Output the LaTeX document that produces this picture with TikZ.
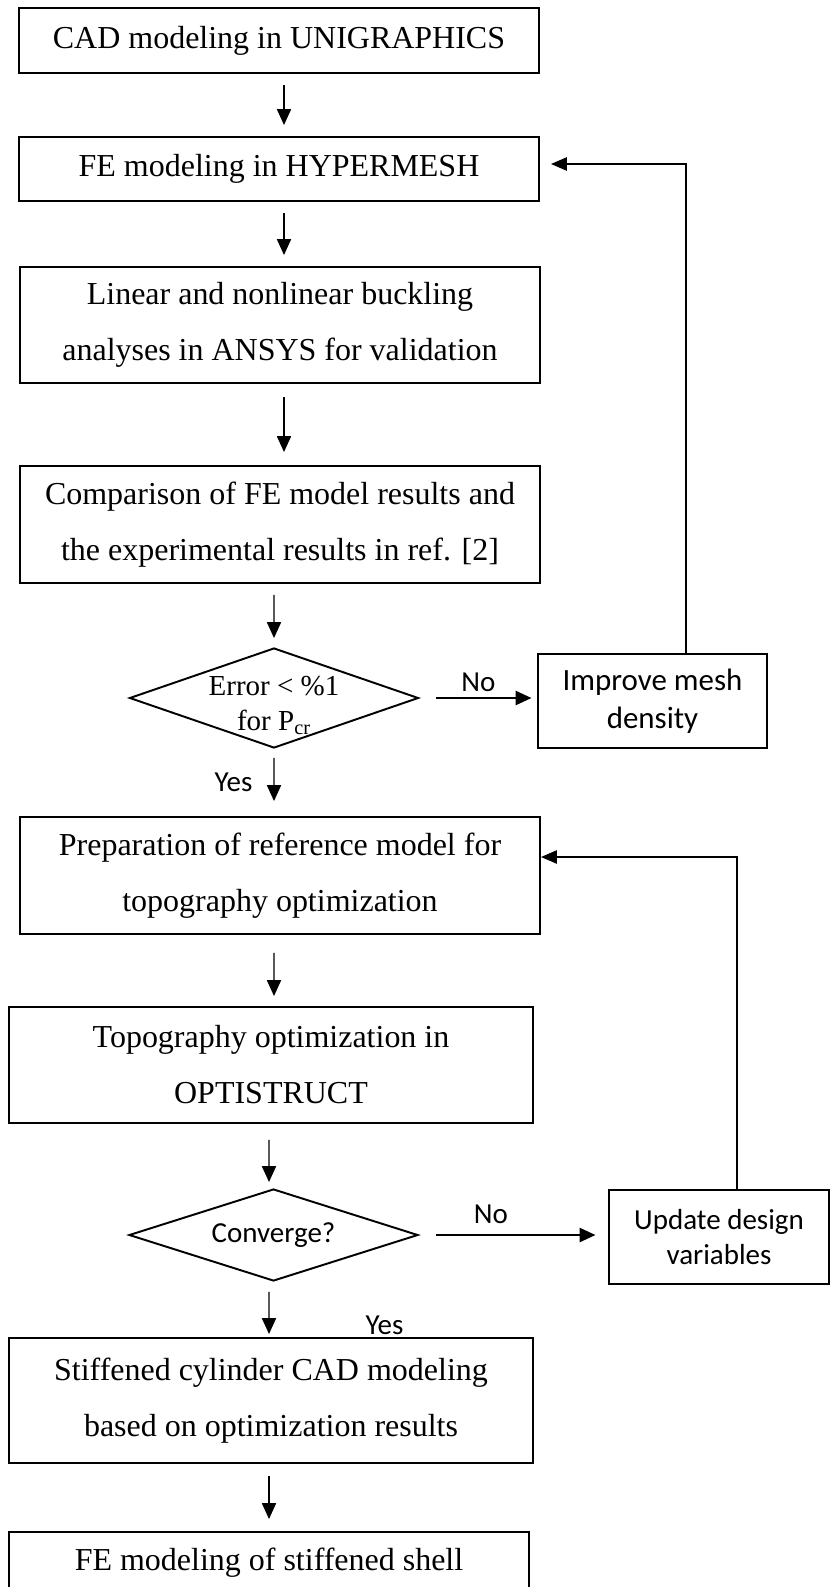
\documentclass[tikz,border=0pt]{standalone}
\usepackage{fontspec}
\setmainfont{Liberation Serif}
\newfontfamily\calibri{Carlito}
\usetikzlibrary{arrows.meta, positioning, shapes.geometric}

\begin{document}
\begin{tikzpicture}[
    x=0.2mm, y=-0.2mm,
    every node/.style={font=\fontsize{18.2}{31.9}\selectfont},
    box/.style={draw, line width=1.1pt, align=center, inner sep=0pt, minimum width=104mm},
    sidebox/.style={draw, line width=0.6pt, align=center, inner sep=0pt, font=\calibri\fontsize{17.6}{21.6}\selectfont},
    decision/.style={diamond, draw, line width=1.1pt, inner sep=0pt, shape aspect=3.1, minimum width=57.8mm},
    flow/.style={-{Triangle[length=9pt, width=8pt]}, line width=0.75pt},
    nolink/.style={-{Triangle[length=9pt, width=8pt]}, line width=1.3pt},
    back/.style={-{Triangle[length=9pt, width=7.5pt]}, line width=0.9pt},
    tag/.style={font=\calibri\fontsize{16.5}{19.9}\selectfont, inner sep=0pt}
]
\useasboundingbox (0,0) rectangle (830,1587);

% Validation chain
\node[box, minimum height=13mm] (cad) at (279,40.5) {CAD modeling in UNIGRAPHICS};
\node[box, minimum height=12.8mm] (fe) at (279,169) {FE modeling in HYPERMESH};
\node[box, minimum height=23.2mm] (buckle) at (280,325) {Linear and nonlinear buckling\\analyses in ANSYS for validation};
\node[box, minimum height=23.4mm] (compare) at (280,524.5) {Comparison of FE model results and\\the experimental results in ref. [2]};

% Error check
\node[decision, minimum height=20mm] (errchk) at (274,698) {};
\node[font=\fontsize{16.5}{19.9}\selectfont, align=center, inner sep=0pt] (errtxt) at ([yshift=-1.5mm]errchk.center) {Error \textless{} \%1\\for P\textsubscript{cr}};
\node[sidebox, minimum width=45.8mm, minimum height=18.8mm] (mesh) at (652.5,701) {Improve mesh\\density};

% Optimization chain
\node[box, minimum height=23.4mm] (prep) at (280,875.5) {Preparation of reference model for\\topography optimization};
\node[box, minimum width=104.7mm, minimum height=23.2mm] (topo) at (271,1065) {Topography optimization in\\OPTISTRUCT};
\node[decision, minimum height=18.4mm, font=\calibri\fontsize{16.5}{19.9}\selectfont] (conv) at (273.5,1235) {Converge?};
\node[sidebox, minimum width=44mm, minimum height=18.8mm, font=\calibri\fontsize{16.5}{19.9}\selectfont] (update) at (719,1237) {Update design\\variables};
\node[box, minimum width=104.7mm, minimum height=25mm] (stiff) at (271,1400.5) {Stiffened cylinder CAD modeling\\based on optimization results};
\node[box, minimum width=103.9mm, minimum height=12.4mm] (shell) at (269,1563) {FE modeling of stiffened shell};

% Main flow
\draw[flow, shorten <=2.2mm, shorten >=2.2mm] ([xshift=1mm]cad.south) -- ([xshift=1mm]fe.north);
\draw[flow, shorten <=2.2mm, shorten >=2.2mm] ([xshift=1mm]fe.south) -- ([xshift=0.8mm]buckle.north);
\draw[flow, shorten <=2.6mm, shorten >=2.6mm] ([xshift=0.8mm]buckle.south) -- ([xshift=0.8mm]compare.north);
\draw[flow, shorten <=2.2mm, shorten >=1.8mm] ([xshift=-1.2mm]compare.south) -- (errchk.north);
\draw[flow, shorten <=1.8mm, shorten >=3mm] (errchk.south) -- node[tag, left=4.2mm] {Yes} ([xshift=-1.2mm]prep.north);
\draw[flow, shorten <=3.6mm, shorten >=2mm] ([xshift=-1.2mm]prep.south) -- ([xshift=0.6mm]topo.north);
\draw[flow, shorten <=3.2mm, shorten >=1.2mm] ([xshift=-0.4mm]topo.south) -- ([xshift=-0.9mm]conv.north);
\draw[flow, shorten <=2mm, shorten >=0.6mm] ([xshift=-0.9mm]conv.south) -- node[tag, pos=0.79, right=19.2mm] {Yes} ([xshift=-0.4mm]stiff.north);
\draw[flow, shorten <=2.4mm, shorten >=2.4mm] ([xshift=-0.4mm]stiff.south) -- (shell.north);

% No branches
\draw[nolink, shorten <=3.4mm, shorten >=1.2mm] (errchk.east) -- node[tag, above=1mm] {No} (errchk.east -| mesh.west);
\draw[nolink, shorten <=3.4mm, shorten >=2.6mm] (conv.east) -- node[tag, pos=0.38, above=2.1mm] {No} (conv.east -| update.west);

% Feedback loops
\draw[back, shorten >=2.2mm] ([xshift=6.7mm]mesh.north) |- ([yshift=1mm]fe.east);
\draw[back] ([xshift=3.6mm]update.north) |- ([yshift=3.7mm]prep.east);

\end{tikzpicture}
\end{document}
